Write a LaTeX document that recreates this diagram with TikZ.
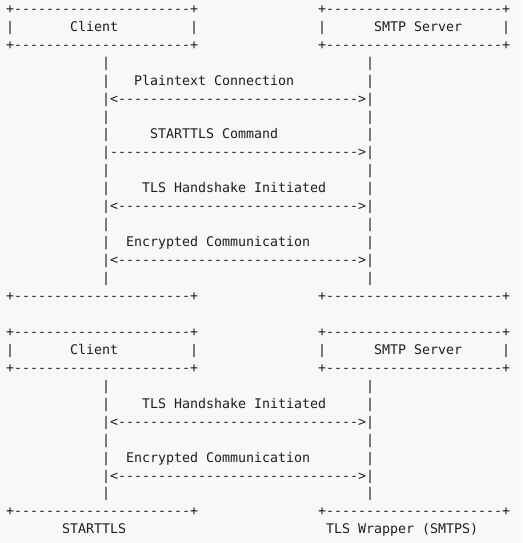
\documentclass[tikz,border=0pt]{standalone}
\usepackage{fontspec}
\setmonofont{DejaVu Sans Mono}
\usepackage{tikz}
\usetikzlibrary{positioning}
\definecolor{pagebg}{HTML}{F8F8F8}
\definecolor{inkcol}{HTML}{1E1E1E}

\begin{document}
\begin{tikzpicture}[
    x=8pt, y=-17.95pt,
    asc/.style = {font=\ttfamily\fontsize{13.3pt}{16pt}\selectfont,
                  text=inkcol, inner sep=0pt, outer sep=0pt,
                  anchor=base west}
  ]
  \path[use as bounding box, fill=pagebg]
        (-6pt,13.3pt) rectangle (516pt,-529.7pt);

  %% Participant boxes (both panels)
  \foreach \p/\r in {a/0, b/18} {
    \foreach \k/\dr in {top/0, bot/2} {
      \node[asc] (\p cl\k) at (0,\r+\dr)  {+----------------------+};
      \node[asc] (\p sv\k) at (39,\r+\dr) {+----------------------+};
    }
    \node[asc] (\p cll) at (0,\r+1)  {|};
    \node[asc] (\p cln) at (8,\r+1)  {Client};
    \node[asc] (\p clr) at (23,\r+1) {|};
    \node[asc] (\p svl) at (39,\r+1) {|};
    \node[asc] (\p svn) at (46,\r+1) {SMTP Server};
    \node[asc] (\p svr) at (62,\r+1) {|};
  }

  %% Lifelines
  \foreach \r in {3,4,6,7,9,10,12,13,15,21,22,24,25,27} {
    \node[asc] (cbar\r) at (12,\r) {|};
    \node[asc] (sbar\r) at (45,\r) {|};
  }

  %% Panel 1 -- STARTTLS
  \node[asc] (plain)  at (16,4) {Plaintext Connection};
  \node[asc] (msg5)   at (12,5) {|<------------------------------>|};
  \node[asc] (cmd)    at (18,7) {STARTTLS Command};
  \node[asc] (msg8)   at (12,8) {|------------------------------->|};
  \node[asc] (hs1)    at (17,10) {TLS Handshake Initiated};
  \node[asc] (msg11)  at (12,11) {|<------------------------------>|};
  \node[asc] (enc1)   at (15,13) {Encrypted Communication};
  \node[asc] (msg14)  at (12,14) {|<------------------------------>|};
  \node[asc] (aclend) at (0,16)  {+----------------------+};
  \node[asc] (asvend) at (39,16) {+----------------------+};

  %% Panel 2 -- TLS wrapper
  \node[asc] (hs2)    at (17,22) {TLS Handshake Initiated};
  \node[asc] (msg23)  at (12,23) {|<------------------------------>|};
  \node[asc] (enc2)   at (15,25) {Encrypted Communication};
  \node[asc] (msg26)  at (12,26) {|<------------------------------>|};
  \node[asc] (bclend) at (0,28)  {+----------------------+};
  \node[asc] (bsvend) at (39,28) {+----------------------+};

  %% Captions
  \node[asc] (capa) at (7,29)  {STARTTLS};
  \node[asc] (capb) at (40,29) {TLS Wrapper (SMTPS)};

\end{tikzpicture}
\end{document}
